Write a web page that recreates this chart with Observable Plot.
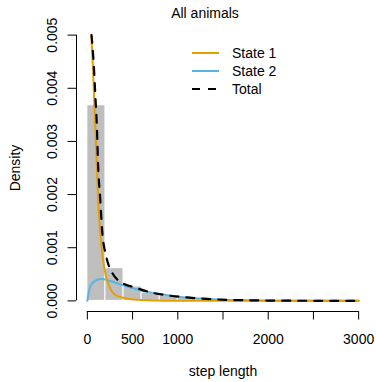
<!DOCTYPE html>
<html><head><meta charset="utf-8">
<script src="https://cdn.jsdelivr.net/npm/d3@7"></script>
<script src="https://cdn.jsdelivr.net/npm/@observablehq/plot@0.6"></script>
<style>
html,body{margin:0;padding:0;background:#fff;}
#wrap{position:relative;width:376px;height:382px;font-family:"Liberation Sans",Arial,Helvetica,sans-serif;color:#000;}
#title{box-sizing:border-box;height:24px;padding-top:2px;margin-left:34px;width:342px;text-align:center;font-size:14px;line-height:22px;}
#legend{position:absolute;left:186px;top:42px;}
svg{display:block;}
</style></head><body>
<div id="wrap"><div id="title">All animals</div><div id="chart"></div><svg id="legend" width="140" height="60"></svg></div>
<script>
// histogram (bin width 200)
const binStart = [0,200,400,600,800,1000,1200,1400,1600,1800,2000,2200,2400,2600,2800];
const binDensity = [0.00368,0.000615,0.00027,0.000156,0.000094,0.000056,0.000035,0.000022,0.000015,0.00001,0.000007,0.000005,0.000003,0.000002,0.0000015];
const binWidth = 200;

// State 1 density (orange)
const state1X = [44,60,75,90,105,120,140,170,205,245,310,420,550,800,1200,3000];
const state1Y = [0.00500,0.00445,0.00382,0.00320,0.00255,0.00192,0.00135,0.00083,0.00047,0.00027,0.00011,0.00005,0.00002,0.000005,0.000001,0];

// State 2 density (blue)
const state2X = [0,15,33,60,90,130,165,200,240,300,350,420,500,600,700,800,930,1050,1150,1300,1450,1650,1900,2200,2600,3000];
const state2Y = [0,0.00016,0.00027,0.00034,0.00038,0.000405,0.00041,0.0004,0.00038,0.00035,0.00032,0.00028,0.00024,0.00019,0.00016,0.00013,0.000095,0.00007,0.000056,0.00004,0.000026,0.000015,0.000008,0.000004,0.000001,0];

// Total density (dashed)
const totalX = [46,70,89,107,118,141,163,207,274,385,533,700,900,1100,1400,1800,2400,3000];
const totalY = [0.005,0.00447,0.00384,0.00321,0.00259,0.00196,0.00133,0.00085,0.00053,0.00034,0.00025,0.00016,0.0001,0.000065,0.00003,0.00001,0.000002,0];

const xTicks = [0,500,1000,1500,2000,2500,3000];
const xTickLabels = [0,500,1000,2000,3000];
const yTicks = [0,0.001,0.002,0.003,0.004,0.005];
const xDomain = [-120,3120];
const yDomain = [-0.0002,0.0052];

const legendLabels = ["State 1","State 2","Total"];
const colState1 = "#E69F00", colState2 = "#56B4E9", colTotal = "#000000";

const bins = binStart.map((s,i)=>({x1:s,x2:s+binWidth,d:binDensity[i]}));
const s1 = state1X.map((x,i)=>({x,y:state1Y[i]}));
const s2 = state2X.map((x,i)=>({x,y:state2Y[i]}));
const tot = totalX.map((x,i)=>({x,y:totalY[i]}));

const chart = Plot.plot({
  width:376, height:358,
  marginTop:0, marginLeft:76, marginRight:7, marginBottom:71,
  x:{domain:xDomain},
  y:{domain:yDomain},
  style:{fontFamily:"'Liberation Sans',Arial,Helvetica,sans-serif", fontSize:"14px", color:"#000", background:"#fff", overflow:"visible"},
  marks:[
    Plot.rectY(bins,{x1:"x1",x2:"x2",y:"d",fill:"#BEBEBE",stroke:"#fff",strokeWidth:1}),
    Plot.line(s2,{x:"x",y:"y",stroke:colState2,strokeWidth:2,curve:"monotone-x"}),
    Plot.line(s1,{x:"x",y:"y",stroke:colState1,strokeWidth:2,curve:"monotone-x"}),
    Plot.line(tot,{x:"x",y:"y",stroke:colTotal,strokeWidth:2.2,strokeDasharray:"8,8",curve:"monotone-x"}),
    Plot.ruleY([yDomain[0]],{x1:xTicks[0],x2:xTicks[xTicks.length-1],stroke:"#000",strokeWidth:1}),
    Plot.ruleX([xDomain[0]],{y1:yTicks[0],y2:yTicks[yTicks.length-1],stroke:"#000",strokeWidth:1}),
    Plot.axisX({ticks:xTicks,tickSize:8.5,tickPadding:14.5,strokeOpacity:1,
      tickFormat:d=>xTickLabels.includes(d)?String(d):"",
      label:"step length",labelAnchor:"center",labelArrow:"none",labelOffset:64}),
    Plot.axisY({ticks:yTicks,tickSize:8.5,tickPadding:11.5,tickRotate:-90,strokeOpacity:1,
      tickFormat:d3.format(".3f"),
      label:"Density",labelAnchor:"center",labelArrow:"none",labelOffset:66})
  ]
});
document.getElementById("chart").appendChild(chart);

// legend
const lg = d3.select("#legend");
const items = [
  {label:legendLabels[0],color:colState1,dash:null},
  {label:legendLabels[1],color:colState2,dash:null},
  {label:legendLabels[2],color:colTotal,dash:"8,8"}
];
items.forEach((it,i)=>{
  const yy = 11 + i*18;
  lg.append("line").attr("x1",6).attr("x2",33).attr("y1",yy).attr("y2",yy)
    .attr("stroke",it.color).attr("stroke-width",2).attr("stroke-dasharray",it.dash);
  lg.append("text").attr("x",46).attr("y",yy).attr("dy","0.35em")
    .attr("font-size",14).attr("font-family","'Liberation Sans',Arial,Helvetica,sans-serif").text(it.label);
});
</script>
</body></html>
